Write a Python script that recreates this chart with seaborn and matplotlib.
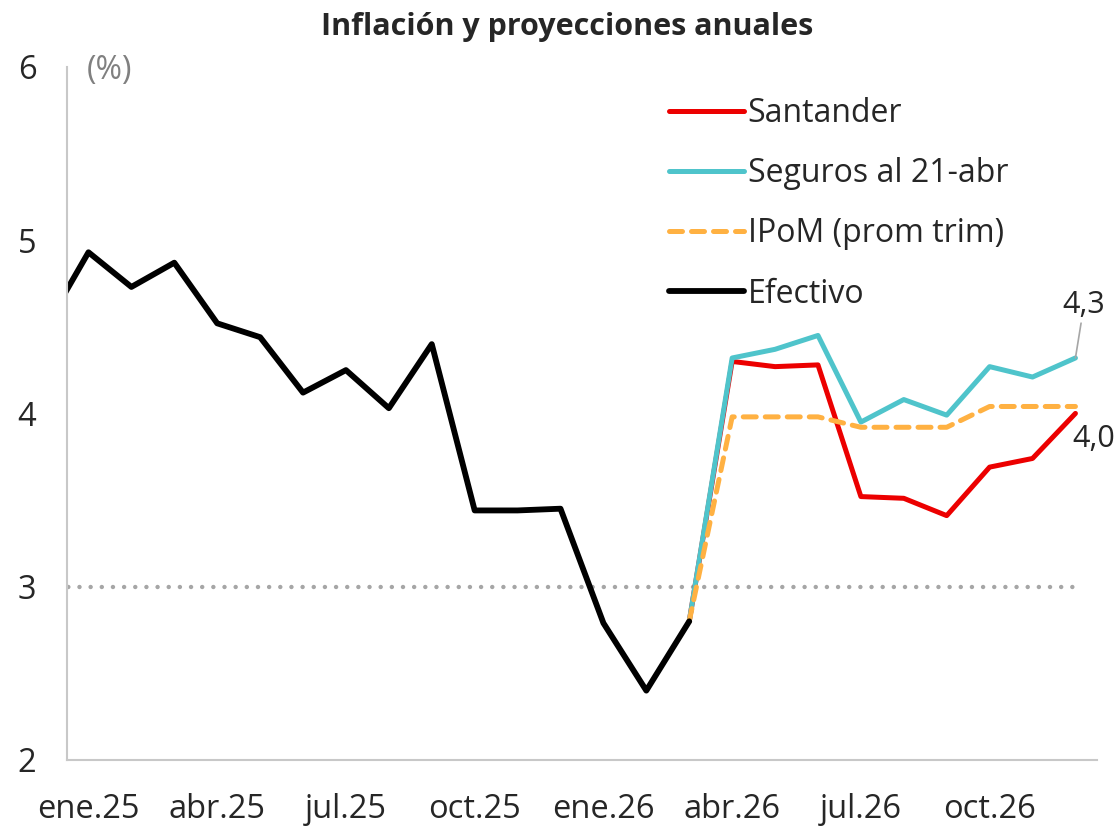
import matplotlib.pyplot as plt
import numpy as np
import pandas as pd
import seaborn as sns

sns.set_style('white')
plt.rcParams['font.family'] = ['Open Sans', 'DejaVu Sans']

# months (dic.24 .. dic.26)
efectivo_months = pd.period_range('2024-12', '2026-03', freq='M')
efectivo = [4.50, 4.93, 4.73, 4.87, 4.52, 4.44, 4.12, 4.25, 4.03, 4.40,
            3.44, 3.44, 3.45, 2.79, 2.40, 2.80]

proy_months = pd.period_range('2026-03', '2026-12', freq='M')
santander = [2.80, 4.30, 4.27, 4.28, 3.52, 3.51, 3.41, 3.69, 3.74, 4.00]
seguros = [2.80, 4.32, 4.37, 4.45, 3.95, 4.08, 3.99, 4.27, 4.21, 4.32]
ipom = [2.80, 3.98, 3.98, 3.98, 3.92, 3.92, 3.92, 4.04, 4.04, 4.04]

meta_months = pd.period_range('2024-12', '2026-12', freq='M')
meta = [3.0] * len(meta_months)

tick_labels = ['ene.25', 'abr.25', 'jul.25', 'oct.25',
               'ene.26', 'abr.26', 'jul.26', 'oct.26']

start = pd.Period('2025-01', freq='M')


def pos(months):
    # mid-month position, months counted from ene.25
    return np.array([(m - start).n for m in months]) + 0.5


fig = plt.figure(figsize=(11.17, 8.26), dpi=100)
ax = fig.add_axes([0.060, 0.080, 0.922, 0.839])

sns.lineplot(x=pos(meta_months), y=meta, ax=ax, color='#a6a6a6', lw=3.2,
             linestyle=(0, (0.01, 2.5)), dash_capstyle='round', solid_capstyle='round')

sns.lineplot(x=pos(proy_months), y=santander, ax=ax, color='#ec0000', lw=3.6,
             label='Santander')
sns.lineplot(x=pos(proy_months), y=seguros, ax=ax, color='#4fc4cb', lw=3.6,
             label='Seguros al 21-abr')
sns.lineplot(x=pos(proy_months), y=ipom, ax=ax, color='#ffb142', lw=3.6,
             linestyle=(0, (2.6, 1.8)), dash_capstyle='round', label='IPoM (prom trim)')
sns.lineplot(x=pos(efectivo_months), y=efectivo, ax=ax, color='black', lw=4.2,
             label='Efectivo')

ax.set_xlim(0, 24)
ax.set_ylim(2, 6)
ax.set_yticks([2, 3, 4, 5, 6])
ax.set_xticks(np.arange(0, 25, 3))
ax.set_xticklabels([])
ax.set_xticks(np.arange(0, 24, 3) + 0.5, minor=True)
ax.set_xticklabels(tick_labels, minor=True)
ax.tick_params(axis='x', which='major', length=10, width=1, color='#c8c8c8', direction='out')
ax.tick_params(axis='x', which='minor', length=0, pad=24, labelsize=23.5)
ax.tick_params(axis='y', length=8, width=1, color='#c8c8c8', labelsize=23.5, pad=14)
ax.set_xlabel('')
ax.set_ylabel('')

for side in ['top', 'right']:
    ax.spines[side].set_visible(False)
for side in ['left', 'bottom']:
    ax.spines[side].set_color('#c8c8c8')
    ax.spines[side].set_linewidth(1.5)

# end labels
x_end = pos(proy_months)[-1]
ax.annotate('4,3', xy=(x_end, seguros[-1]), xytext=(x_end + 0.2, seguros[-1] + 0.22),
            fontsize=22, ha='center', va='bottom',
            arrowprops=dict(arrowstyle='-', color='#a6a6a6', lw=1.2, shrinkA=0, shrinkB=0))
ax.text(x_end - 0.08, santander[-1] - 0.06, '4,0', fontsize=22, ha='left', va='top')

ax.text(0.45, 5.98, '(%)', fontsize=23, color='#808080', ha='left', va='center')
fig.text(0.508, 0.967, 'Inflación y proyecciones anuales', fontsize=22,
         fontweight='bold', ha='center', va='center')

ax.legend(loc='upper left', bbox_to_anchor=(0.557, 0.998), frameon=False, fontsize=23,
          handlelength=2.35, handletextpad=0.1, labelspacing=0.85)

plt.savefig('out.png', dpi=100)
